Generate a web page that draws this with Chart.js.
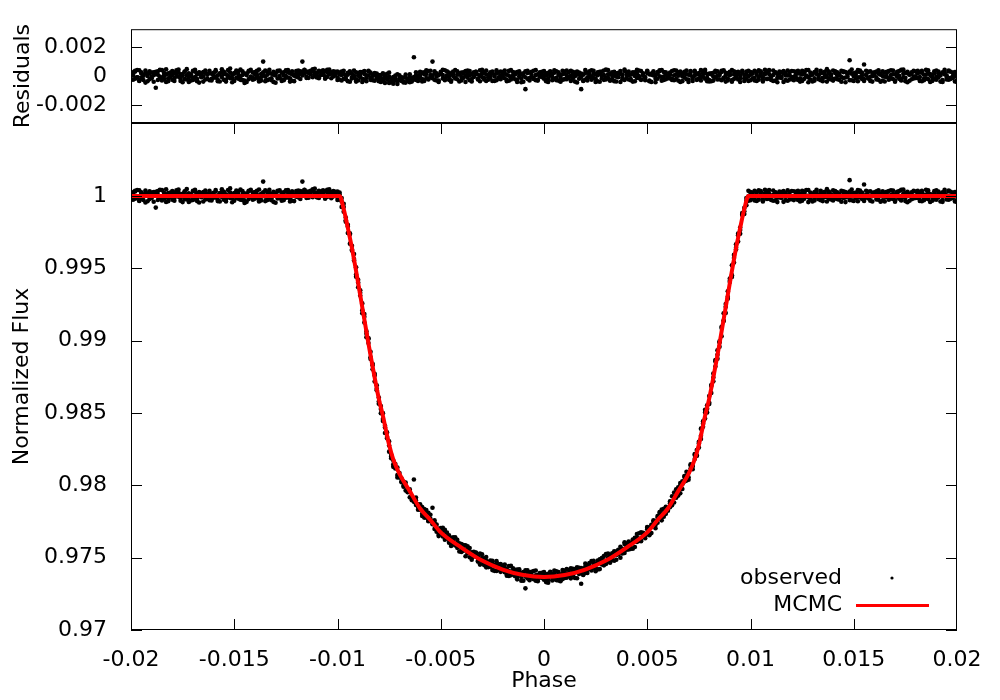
<!DOCTYPE html>
<html>
<head>
<meta charset="utf-8">
<title>Transit light curve</title>
<script src="https://cdn.jsdelivr.net/npm/chart.js@4.4.0/dist/chart.umd.min.js"></script>
<style>
  body { margin: 0; background: #fff; }
  #wrap { position: relative; width: 1000px; height: 700px; }
  #wrap canvas { position: absolute; left: 0; top: 0; }
</style>
</head>
<body>
<div id="wrap">
  <canvas id="fluxChart" width="1000" height="700"></canvas>
  <canvas id="residChart" width="1000" height="700"></canvas>
</div>
<script>
// phase of each observation (same grid for the three visits), in units of 1e-4
const phaseE4 = [
  -200,-199,-198,-197,-196,-195,-194,-193,-192,-191,-190,-189,-188,-187,-186,-185,-184,-183,-182,-181,
  -180,-179,-178,-177,-176,-175,-174,-173,-172,-171,-170,-169,-168,-167,-166,-165,-164,-163,-162,-161,
  -160,-159,-158,-157,-156,-155,-154,-153,-152,-151,-150,-149,-148,-147,-146,-145,-144,-143,-142,-141,
  -140,-139,-138,-137,-136,-135,-134,-133,-132,-131,-130,-129,-128,-127,-126,-125,-124,-123,-122,-121,
  -120,-119,-118,-117,-116,-115,-114,-113,-112,-111,-110,-109,-108,-107,-106,-105,-104,-103,-102,-101,
  -100,-99,-98,-97,-96,-95,-94,-93,-92,-91,-90,-89,-88,-87,-86,-85,-84,-83,-82,-81,
  -80,-79,-78,-77,-76,-75,-74,-73,-72,-71,-70,-69,-68,-67,-66,-65,-64,-63,-62,-61,
  -60,-59,-58,-57,-56,-55,-54,-53,-52,-51,-50,-49,-48,-47,-46,-45,-44,-43,-42,-41,
  -40,-39,-38,-37,-36,-35,-34,-33,-32,-31,-30,-29,-28,-27,-26,-25,-24,-23,-22,-21,
  -20,-19,-18,-17,-16,-15,-14,-13,-12,-11,-10,-9,-8,-7,-6,-5,-4,-3,-2,-1,
  0,
  1,2,3,4,5,6,7,8,9,10,11,12,13,14,15,16,17,18,19,20,
  21,22,23,24,25,26,27,28,29,30,31,32,33,34,35,36,37,38,39,40,
  41,42,43,44,45,46,47,48,49,50,51,52,53,54,55,56,57,58,59,60,
  61,62,63,64,65,66,67,68,69,70,71,72,73,74,75,76,77,78,79,80,
  81,82,83,84,85,86,87,88,89,90,91,92,93,94,95,96,97,98,99,100,
  101,102,103,104,105,106,107,108,109,110,111,112,113,114,115,116,117,118,119,120,
  121,122,123,124,125,126,127,128,129,130,131,132,133,134,135,136,137,138,139,140,
  141,142,143,144,145,146,147,148,149,150,151,152,153,154,155,156,157,158,159,160,
  161,162,163,164,165,166,167,168,169,170,171,172,173,174,175,176,177,178,179,180,
  181,182,183,184,185,186,187,188,189,190,191,192,193,194,195,196,197,198,199,200
];

// observed normalized flux per visit, in units of 1e-5
const fluxA = [
  100012,99975,100031,99992,100040,99983,100005,100022,99964,100018,99996,100027,99920,100009,100044,99988,100003,99959,100020,99994,
  100035,99986,100000,100026,99967,100015,99979,100048,99991,100007,99973,100030,100011,99955,100019,99998,100038,99982,100024,99970,
  100006,100041,99977,100014,99993,100029,99962,100002,100053,99985,100021,99989,100033,99974,100008,99952,100017,100036,99997,100025,
  99981,100010,100045,99969,100100,99995,100028,99978,100016,99960,100004,100037,99987,100023,99972,100001,100042,99984,100013,99965,
  100020,99991,100034,100100,100018,100030,99988,100026,100039,100008,100022,99995,100031,100015,99982,100044,100012,100027,99998,100019,
  99990,100025,99925,99924,99823,99789,99743,99623,99564,99442,99421,99312,99258,99125,99066,99016,98886,98841,98718,98692,
  98580,98548,98445,98412,98335,98304,98188,98174,98117,98123,98062,98022,98025,97965,97963,97955,97897,98040,97864,97869,
  97850,97804,97837,97776,97810,97753,97845,97743,97680,97696,97697,97646,97692,97637,97604,97635,97641,97589,97599,97543,
  97594,97548,97554,97579,97503,97537,97508,97534,97478,97489,97523,97449,97478,97451,97480,97414,97449,97456,97415,97456,
  97414,97431,97383,97442,97392,97403,97372,97418,97385,97396,97341,97288,97397,97361,97403,97351,97378,97337,97383,97359,
  97368,
  97385,97351,97402,97365,97394,97345,97384,97365,97415,97359,97389,97414,97357,97408,97397,97433,97388,97320,97423,97394,
  97449,97422,97476,97428,97460,97418,97480,97470,97447,97525,97478,97513,97485,97544,97519,97554,97500,97562,97595,97555,
  97587,97561,97626,97611,97608,97669,97617,97667,97657,97708,97655,97728,97729,97726,97788,97773,97832,97783,97838,97831,
  97889,97873,97916,97973,97929,98001,98007,98064,98033,98090,98145,98132,98182,98204,98301,98343,98442,98462,98554,98563,
  98694,98745,98857,98876,98988,99096,99139,99253,99290,99415,99521,99540,99643,99740,99766,99870,99876,99967,99999,100028,
  99984,100037,100009,99975,100022,99992,100044,99981,100015,100001,99967,100026,99988,100031,99996,100018,99972,100039,100006,99979,
  100033,99990,100020,99962,100011,100027,99997,100042,99976,100016,99985,100030,100005,99971,100023,99993,100048,99982,100012,99969,
  100021,100004,99974,100036,99987,100028,99995,100110,100017,99966,100025,99991,100038,99980,100080,100007,99984,100033,99999,100019,
  99977,100040,100010,99970,100024,99994,100035,99983,100013,99961,100029,100002,99973,100045,99989,100020,99968,100016,99997,100031,
  99986,100026,99964,100009,100043,99979,100014,99992,100034,99975,100018,100005,99960,100027,99988,100038,99981,100022,100001,99972
];
const fluxB = [
  99978,100014,100037,99991,99969,100026,100003,99955,100018,100033,99986,100006,100029,99973,99997,100041,99981,100011,99964,100024,
  100008,99967,100019,100045,99984,100002,100030,99976,99959,100013,100036,99993,99980,100027,100005,99962,100022,100009,99971,100016,
  99989,100031,99965,100020,100047,99974,100012,99996,100025,99957,100017,100038,99982,99999,100034,99970,100007,99979,100043,99988,
  100028,99994,99963,100015,100004,100039,99972,100021,99985,100010,99954,100032,100001,99977,100026,100040,99990,100019,99968,100008,
  100035,100014,99980,100029,100043,99997,100022,100037,99992,100051,100016,99986,100027,100009,100033,99994,100046,100020,100003,100030,
  99973,100012,99986,99892,99851,99745,99734,99631,99599,99458,99403,99348,99190,99165,99048,99014,98874,98831,98771,98658,
  98564,98528,98499,98362,98325,98276,98199,98128,98130,98071,98085,98028,97991,98001,97952,97972,97915,97904,97916,97851,
  97832,97850,97777,97804,97756,97797,97749,97699,97729,97649,97705,97670,97637,97673,97626,97591,97626,97641,97568,97591,
  97540,97578,97586,97530,97538,97486,97541,97518,97473,97528,97474,97494,97433,97469,97437,97479,97440,97408,97454,97427,
  97446,97399,97420,97374,97443,97393,97416,97364,97402,97340,97386,97412,97357,97399,97363,97408,97341,97380,97364,97396,
  97348,
  97331,97389,97373,97342,97411,97361,97401,97337,97391,97411,97362,97381,97426,97378,97422,97358,97415,97428,97384,97460,
  97415,97463,97411,97459,97407,97460,97489,97453,97511,97457,97500,97465,97531,97516,97486,97551,97576,97540,97533,97578,
  97611,97570,97614,97574,97663,97631,97614,97672,97650,97712,97659,97719,97749,97703,97776,97808,97783,97838,97803,97844,
  97849,97925,97881,97946,97986,97945,98028,98027,98094,98056,98117,98112,98209,98244,98261,98392,98405,98503,98504,98617,
  98687,98719,98867,98902,98958,99088,99136,99192,99341,99406,99453,99593,99630,99729,99739,99870,99918,99937,100036,99971,
  100024,99987,99966,100040,100007,99975,100019,100032,99983,99996,100038,99970,100014,99991,100027,99960,100021,100005,99977,100035,
  99995,100029,99973,100016,100036,99981,100003,99958,100024,100010,99969,100044,99988,100020,99965,100013,99994,100031,99976,100039,
  99983,100026,100008,99961,100033,99990,100021,99972,100045,99997,100015,99964,100027,100004,99979,100037,99986,99967,100022,100006,
  100032,99974,100018,100001,99963,100029,99989,100040,99980,100012,99996,100035,99970,100017,100023,99957,100009,100026,99984,99998,
  100020,99966,100036,99982,100011,100028,99959,100003,99978,100039,99991,100015,99972,100044,100005,99975,100030,99987,99963,100018
];
const fluxC = [
  100030,100005,99982,100042,99966,100016,99973,100038,100001,99979,100025,99961,100014,100034,99989,99970,100022,100047,99984,100009,
  99974,100021,100040,99995,100011,99958,100032,100006,100019,99969,99988,100044,99965,100023,99992,100028,99976,100013,100037,99981,
  100022,99991,100004,99963,100030,100015,99977,100041,99986,100007,99967,100026,100010,100045,99972,100018,99960,100031,99994,99975,
  100013,100036,99979,99993,100026,99965,100009,100044,99971,100030,100018,99983,100039,99967,100005,99989,100027,99962,100033,100002,
  99996,100038,100017,100005,100042,99987,100031,100012,100047,100024,99991,100036,100007,100040,99999,100026,100019,99985,100034,100010,
  100031,99976,99963,99947,99832,99802,99671,99656,99555,99507,99370,99331,99211,99185,99024,98984,98924,98802,98759,98668,
  98607,98499,98458,98400,98366,98233,98211,98145,98148,98055,98054,98047,97997,98020,97955,97917,97922,97886,97896,97831,
  97869,97788,97822,97830,97752,97768,97731,97759,97708,97659,97692,97707,97624,97646,97655,97581,97611,97584,97623,97600,
  97563,97587,97510,97557,97567,97503,97511,97535,97508,97452,97499,97460,97505,97435,97458,97470,97409,97476,97421,97402,
  97432,97453,97375,97409,97378,97426,97405,97350,97420,97366,97400,97370,97412,97344,97380,97357,97411,97345,97394,97379,
  97401,
  97370,97327,97396,97386,97352,97406,97343,97383,97352,97398,97422,97375,97392,97423,97360,97413,97430,97403,97380,97439,
  97394,97443,97433,97478,97430,97480,97421,97498,97481,97468,97529,97470,97509,97479,97543,97524,97555,97529,97606,97597,
  97556,97600,97562,97637,97639,97616,97675,97654,97634,97696,97702,97670,97758,97752,97742,97815,97758,97807,97851,97825,
  97874,97863,97950,97915,97963,98016,97975,98057,98068,98039,98138,98139,98216,98207,98290,98320,98426,98523,98529,98572,
  98639,98773,98822,98934,98995,99031,99190,99235,99303,99430,99441,99571,99666,99686,99783,99882,99895,99986,99967,100009,
  100016,99970,100027,99994,100034,99963,100012,99980,100041,99973,100008,100025,99958,100018,99987,100035,100004,99968,100028,99990,
  99972,100012,100037,99985,99967,100024,100041,99991,100006,99963,100028,100015,99978,100036,99988,100030,99962,100017,100002,99980,
  100034,99979,100015,99994,100027,99958,100012,100031,99971,100020,99987,100041,99992,100024,99966,100009,100029,99996,99962,100026,
  99990,100017,99961,100033,99996,100021,99975,100007,100038,99970,100016,99981,100043,99992,99965,100030,100011,99978,100036,99987,
  100037,99993,100023,99971,99984,100040,100008,99967,100019,99995,100031,99962,100026,100012,99976,100033,99989,99998,100028,99959
];

// observed minus model per visit, in units of 1e-5
const residA = [
  12,-25,31,-8,40,-17,5,22,-36,18,-4,27,-80,9,44,-12,3,-41,20,-6,
  35,-14,0,26,-33,15,-21,48,-9,7,-27,30,11,-45,19,-2,38,-18,24,-30,
  6,41,-23,14,-7,29,-38,2,53,-15,21,-11,33,-26,8,-48,17,36,-3,25,
  -19,10,45,-31,100,-5,28,-22,16,-40,4,37,-13,23,-28,1,42,-16,13,-35,
  20,-9,34,100,18,30,-12,26,39,8,22,-5,31,15,-18,44,12,27,-2,19,
  -10,25,-30,14,-22,9,33,-17,4,-38,21,-8,28,-25,6,36,-14,11,-32,17,
  -20,8,-35,2,-15,24,-42,-6,-28,13,-18,-33,-10,-45,-22,-5,-38,130,-26,4,
  10,-21,27,-14,35,-7,100,18,-30,6,22,-17,40,-3,-26,15,31,-11,9,-37,
  24,-12,3,38,-29,14,-6,29,-19,1,43,-24,11,-9,26,-34,7,20,-15,32,
  -4,17,-27,36,-10,5,-22,28,-2,13,-39,-90,21,-13,30,-20,8,-31,16,-7,
  2,
  19,-16,34,-5,23,-28,10,-11,37,-21,6,27,-33,14,-1,31,-18,-90,9,-24,
  25,-8,40,-14,12,-36,20,3,-26,45,-10,16,-20,30,-4,22,-41,11,35,-15,
  7,-29,26,1,-12,39,-23,15,-6,33,-35,18,4,-19,28,-2,42,-27,13,-9,
  24,-17,6,38,-31,16,-3,29,-22,10,35,-13,2,-26,21,-7,32,-18,14,-37,
  19,-5,27,-24,8,36,-11,23,-30,15,41,-20,3,30,-14,25,-34,12,-1,28,
  -16,37,9,-25,22,-8,44,-19,15,1,-33,26,-12,31,-4,18,-28,39,6,-21,
  33,-10,20,-38,11,27,-3,42,-24,16,-15,30,5,-29,23,-7,48,-18,12,-31,
  21,4,-26,36,-13,28,-5,110,17,-34,25,-9,38,-20,80,7,-16,33,-1,19,
  -23,40,10,-30,24,-6,35,-17,13,-39,29,2,-27,45,-11,20,-32,16,-3,31,
  -14,26,-36,9,43,-21,14,-8,34,-25,18,5,-40,27,-12,38,-19,22,1,-28
];
const residB = [
  -22,14,37,-9,-31,26,3,-45,18,33,-14,6,29,-27,-3,41,-19,11,-36,24,
  8,-33,19,45,-16,2,30,-24,-41,13,36,-7,-20,27,5,-38,22,9,-29,16,
  -11,31,-35,20,47,-26,12,-4,25,-43,17,38,-18,-1,34,-30,7,-21,43,-12,
  28,-6,-37,15,4,39,-28,21,-15,10,-46,32,1,-23,26,40,-10,19,-32,8,
  35,14,-20,29,43,-3,22,37,-8,51,16,-14,27,9,33,-6,46,20,3,30,
  -27,12,31,-18,6,-35,24,-9,39,-22,3,28,-40,15,-12,34,-26,1,21,-17,
  -36,-12,19,-48,-25,-4,-31,-52,-15,-39,5,-27,-44,-9,-33,12,-20,-6,26,-14,
  -8,25,-33,14,-19,37,4,-26,19,-41,30,7,-15,33,-4,-29,16,41,-22,11,
  -30,18,35,-11,6,-37,27,13,-24,40,-6,21,-34,9,-17,31,-2,-28,24,3,
  28,-15,10,-32,41,-5,22,-26,15,-43,6,34,-19,25,-10,37,-29,12,-3,30,
  -18,
  -35,22,5,-28,40,-12,27,-39,13,31,-21,-6,36,-16,24,-44,9,18,-30,42,
  -9,33,-25,17,-41,6,29,-14,38,-23,12,-32,26,2,-37,19,35,-11,-27,8,
  31,-20,14,-36,43,1,-26,20,-13,37,-31,9,24,-42,16,33,-7,28,-22,4,
  -16,35,-29,11,26,-40,18,-8,39,-24,7,-33,29,14,-19,42,-5,23,-36,17,
  12,-31,37,2,-22,28,-14,-38,21,6,-27,33,-10,19,-41,25,8,-18,36,-29,
  24,-13,-34,40,7,-25,19,32,-17,-4,38,-30,14,-9,27,-40,21,5,-23,35,
  -5,29,-27,16,36,-19,3,-42,24,10,-31,44,-12,20,-35,13,-6,31,-24,39,
  -17,26,8,-39,33,-10,21,-28,45,-3,15,-36,27,4,-21,37,-14,-33,22,6,
  32,-26,18,1,-37,29,-11,40,-20,12,-4,35,-30,17,23,-43,9,26,-16,-2,
  20,-34,36,-18,11,28,-41,3,-22,39,-9,15,-28,44,5,-25,30,-13,-37,18
];
const residC = [
  30,5,-18,42,-34,16,-27,38,1,-21,25,-39,14,34,-11,-30,22,47,-16,9,
  -26,21,40,-5,11,-42,32,6,19,-31,-12,44,-35,23,-8,28,-24,13,37,-19,
  22,-9,4,-37,30,15,-23,41,-14,7,-33,26,10,45,-28,18,-40,31,-6,-25,
  13,36,-21,-7,26,-35,9,44,-29,30,18,-17,39,-33,5,-11,27,-38,33,2,
  -4,38,17,5,42,-13,31,12,47,24,-9,36,7,40,-1,26,19,-15,34,10,
  31,-24,8,37,-13,22,-39,16,-5,27,-30,11,-19,35,-36,4,24,-28,9,-7,
  7,-41,-22,-10,16,-47,-19,-35,3,-55,-26,-8,-38,10,-30,-43,-13,-24,6,-34,
  29,-37,12,40,-23,8,-14,34,-2,-31,17,44,-28,6,25,-39,1,-16,33,20,
  -7,27,-41,16,35,-20,-3,30,11,-36,19,-13,38,-25,4,22,-33,40,-9,-22,
  14,39,-35,3,-24,28,11,-40,33,-17,20,-8,36,-30,7,-14,41,-23,27,13,
  35,
  4,-40,28,16,-19,33,-31,7,-26,18,39,-12,2,29,-38,11,24,-7,-34,21,
  -30,13,-3,36,-18,26,-39,31,8,-12,41,-27,4,-35,20,-8,14,-22,46,27,
  -24,10,-38,27,19,-14,35,2,-29,21,12,-40,33,7,-18,40,-32,-3,26,-15,
  9,-27,40,-20,3,31,-35,22,13,-41,28,-6,36,-23,10,-30,16,43,-11,-28,
  -36,23,-8,34,15,-29,40,5,-17,30,-39,11,26,-24,3,37,-15,31,-33,9,
  16,-30,27,-6,34,-37,12,-20,41,-27,8,25,-42,18,-13,35,4,-32,28,-10,
  -28,12,37,-15,-33,24,41,-9,6,-37,28,15,-22,36,-12,30,-38,17,2,-20,
  34,-21,15,-6,27,-42,12,31,-29,20,-13,41,-8,24,-34,9,29,-4,-38,26,
  -10,17,-39,33,-4,21,-25,7,38,-30,16,-19,43,-8,-35,30,11,-22,36,-13,
  37,-7,23,-29,-16,40,8,-33,19,-5,31,-38,26,12,-24,33,-11,-2,28,-41
];

// MCMC best-fit model curve
const modelPhase = [
  -0.02, -0.0099, -0.0097, -0.0095, -0.0093, -0.009, -0.0085, -0.008, -0.0078, -0.0075,
  -0.0073, -0.007, -0.0065, -0.006, -0.0055, -0.005, -0.004, -0.003, -0.002, -0.001,
  0,
  0.001, 0.002, 0.003, 0.004, 0.005, 0.0055, 0.006, 0.0065, 0.007, 0.0073,
  0.0075, 0.0078, 0.008, 0.0085, 0.009, 0.0093, 0.0095, 0.0097, 0.0099, 0.02
];
const modelFlux = [
  1, 1, 0.9991, 0.9978, 0.9964, 0.994, 0.9898, 0.986, 0.9848, 0.9828,
  0.9818, 0.9808, 0.9796, 0.9784, 0.9776, 0.97675, 0.9757, 0.9748, 0.97418, 0.9738,
  0.97366,
  0.9738, 0.97418, 0.9748, 0.9757, 0.97675, 0.9776, 0.9784, 0.9796, 0.9808, 0.9818,
  0.9828, 0.9848, 0.986, 0.9898, 0.994, 0.9964, 0.9978, 0.9991, 1, 1
];

const phaseTicks = [-0.02, -0.015, -0.01, -0.005, 0, 0.005, 0.01, 0.015, 0.02];
const fluxTicks = [0.97, 0.975, 0.98, 0.985, 0.99, 0.995, 1];
const residTicks = [-0.002, 0, 0.002];

const FONT = '"DejaVu Sans", "Liberation Sans", sans-serif';
const FONT_SIZE = 22;
const TICK = 11;
Chart.defaults.font.family = FONT;
Chart.defaults.font.size = FONT_SIZE;
Chart.defaults.color = '#000';

const fmt = v => String(+v.toFixed(4));
const setTicks = list => scale => { scale.ticks = list.map(v => ({ value: v })); };

// gnuplot style frame with inward ticks on every side
const frameTicks = {
  id: 'frameTicks',
  afterDraw(chart, args, opts) {
    const { ctx, chartArea: a, scales } = chart;
    const clampX = x => Math.min(Math.max(x, a.left + 0.5), a.right - 0.5);
    ctx.save();
    ctx.strokeStyle = '#000';
    ctx.lineWidth = 1;
    ctx.strokeRect(a.left + 0.5, a.top + 0.5, a.right - a.left - 1, a.bottom - a.top - 1);
    ctx.beginPath();
    scales.y.ticks.forEach(t => {
      const y = Math.round(scales.y.getPixelForValue(t.value)) + 0.5;
      ctx.moveTo(a.left, y); ctx.lineTo(a.left + TICK, y);
      ctx.moveTo(a.right, y); ctx.lineTo(a.right - TICK, y);
    });
    if (opts.xTicks) {
      scales.x.ticks.forEach(t => {
        const x = clampX(Math.round(scales.x.getPixelForValue(t.value)) + 0.5);
        ctx.moveTo(x, a.bottom); ctx.lineTo(x, a.bottom - TICK);
        ctx.moveTo(x, a.top); ctx.lineTo(x, a.top + TICK);
      });
    }
    ctx.stroke();
    ctx.restore();
  }
};

// key in the lower right corner: text first, sample after it
const keyBox = {
  id: 'keyBox',
  afterDraw(chart) {
    const ctx = chart.ctx;
    const fit = chart.data.datasets[0];
    const obs = chart.data.datasets[1];
    ctx.save();
    ctx.font = FONT_SIZE + 'px ' + FONT;
    ctx.fillStyle = '#000';
    ctx.textAlign = 'right';
    ctx.textBaseline = 'middle';
    ctx.fillText(obs.label, 842, 578);
    ctx.fillText(fit.label, 842, 605);
    ctx.beginPath();
    ctx.arc(892, 578, 1.6, 0, 2 * Math.PI);
    ctx.fill();
    ctx.strokeStyle = fit.borderColor;
    ctx.lineWidth = 3;
    ctx.beginPath();
    ctx.moveTo(856, 605.5);
    ctx.lineTo(929, 605.5);
    ctx.stroke();
    ctx.restore();
  }
};

// all visits folded onto one phase axis
const toPoints = visits => visits.flatMap(v => phaseE4.map((p, i) => ({ x: p / 1e4, y: v[i] / 1e5 })));
const observed = toPoints([fluxA, fluxB, fluxC]);
const residuals = toPoints([residA, residB, residC]);
const model = modelPhase.map((p, i) => ({ x: p, y: modelFlux[i] }));

const dotStyle = { pointRadius: 2.3, pointBorderWidth: 0, backgroundColor: '#000', borderColor: '#000' };

// Light curve panel
new Chart(document.getElementById('fluxChart'), {
  type: 'scatter',
  data: {
    datasets: [
      {
        label: 'MCMC',
        data: model,
        showLine: true,
        pointRadius: 0,
        borderColor: '#ff0000',
        borderWidth: 4,
        cubicInterpolationMode: 'monotone'
      },
      { label: 'observed', data: observed, ...dotStyle }
    ]
  },
  options: {
    responsive: false,
    animation: false,
    layout: { padding: { top: 123, right: 43, bottom: 0, left: 0 } },
    plugins: { legend: { display: false }, tooltip: { enabled: false }, frameTicks: { xTicks: true } },
    scales: {
      x: {
        type: 'linear',
        min: -0.02, max: 0.02,
        afterBuildTicks: setTicks(phaseTicks),
        afterFit: s => { s.height = 70; },
        grid: { display: false },
        border: { display: false },
        ticks: { padding: 9, maxRotation: 0, autoSkip: false, callback: fmt },
        title: { display: true, text: 'Phase', padding: { top: 0, bottom: 6 } }
      },
      y: {
        min: 0.97, max: 1.00505,
        afterBuildTicks: setTicks(fluxTicks),
        afterFit: s => { s.width = 131; },
        grid: { display: false },
        border: { display: false },
        ticks: { padding: 16, callback: fmt },
        title: { display: true, text: 'Normalized Flux', padding: { top: 9, bottom: 0 } }
      }
    }
  },
  plugins: [frameTicks, keyBox]
});

// Residuals panel
new Chart(document.getElementById('residChart'), {
  type: 'scatter',
  data: {
    datasets: [{ label: 'residuals', data: residuals, ...dotStyle }]
  },
  options: {
    responsive: false,
    animation: false,
    layout: { padding: { top: 29, right: 43, bottom: 577, left: 0 } },
    plugins: { legend: { display: false }, tooltip: { enabled: false }, frameTicks: { xTicks: false } },
    scales: {
      x: { type: 'linear', min: -0.02, max: 0.02, display: false },
      y: {
        min: -0.00324, max: 0.00324,
        afterBuildTicks: setTicks(residTicks),
        afterFit: s => { s.width = 131; },
        grid: { display: false },
        border: { display: false },
        ticks: { padding: 16, callback: fmt },
        title: { display: true, text: 'Residuals', padding: { top: 10, bottom: 0 } }
      }
    }
  },
  plugins: [frameTicks]
});
</script>
</body>
</html>
